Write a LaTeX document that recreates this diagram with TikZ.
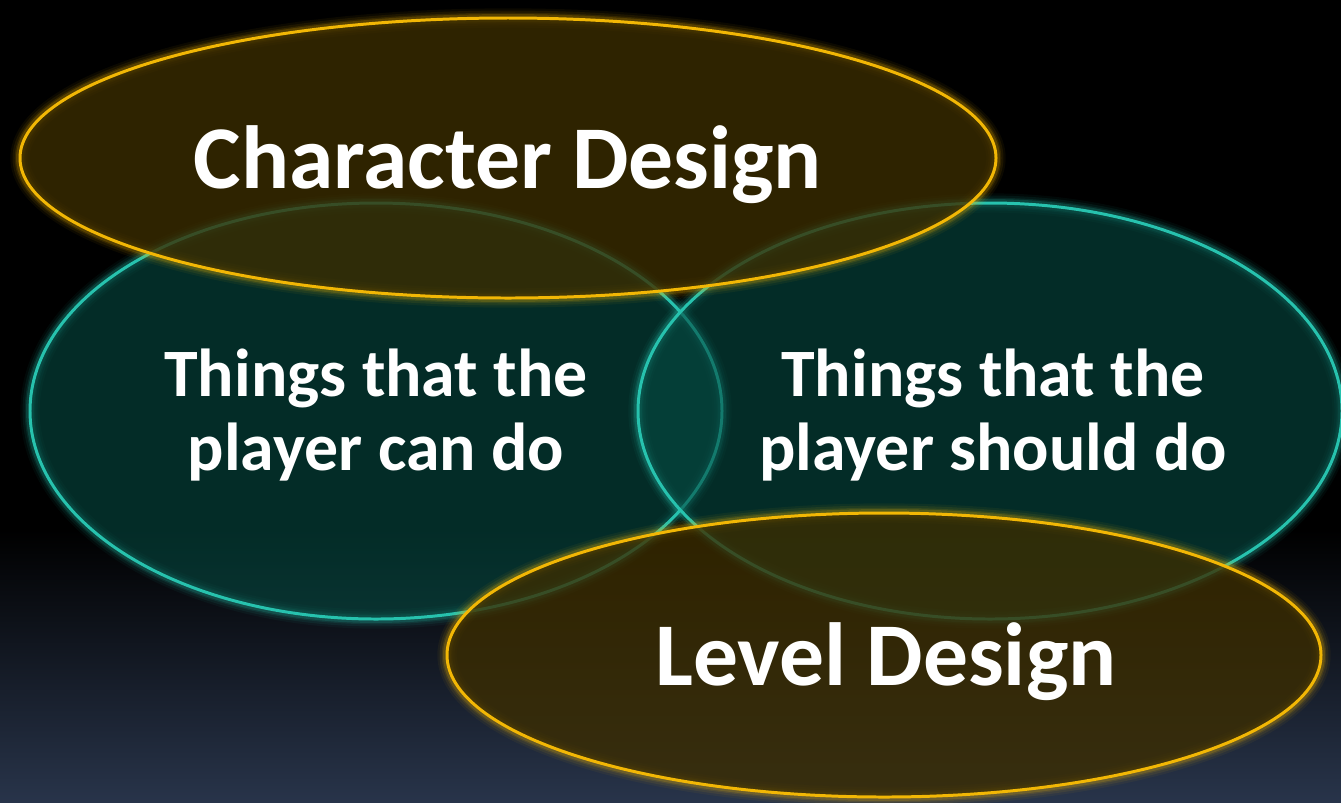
\documentclass[tikz,border=0pt]{standalone}
\usepackage{fontspec}
\setmainfont{Carlito}
\definecolor{backblue}{HTML}{28344A}
\definecolor{goldline}{HTML}{F2B705}
\definecolor{goldfill}{HTML}{3C2D00}
\definecolor{tealline}{HTML}{27C2AE}
\definecolor{tealfill}{HTML}{064A42}
\tikzset{
  bigword/.style={text=white, inner sep=0pt, font=\fontsize{51pt}{60pt}\selectfont\bfseries},
  smallword/.style={text=white, inner sep=0pt, align=center, font=\fontsize{38.6pt}{42pt}\selectfont\bfseries},
}

\begin{document}
\begin{tikzpicture}[x=0.02cm, y=-0.02cm]
  \useasboundingbox (0,0) rectangle (1341,802);
  % dark backdrop, fading to blue at the foot
  \fill[black] (0,0) rectangle (1341,802);
  \shade[top color=black, bottom color=backblue] (0,530) rectangle (1341,802);

  % centres of the four rings
  \coordinate (can)    at (376,411);
  \coordinate (should) at (990,411);
  \coordinate (chr)    at (508,158);
  \coordinate (lvl)    at (884,655);

  \foreach \c/\rx/\ry/\ln/\fl/\op in {can/346/208/tealline/tealfill/0.6,
                                      should/352/208/tealline/tealfill/0.6,
                                      chr/488/140/goldline/goldfill/0.78,
                                      lvl/437/142/goldline/goldfill/0.78} {
    % soft halo round the rim
    \foreach \w/\o in {11/0.05, 8.5/0.08, 6/0.11, 4.5/0.18}
      \draw[draw=\ln, line width=\w pt, opacity=\o] (\c) ellipse [x radius=\rx, y radius=\ry];
    \fill[fill=\fl, fill opacity=\op] (\c) ellipse [x radius=\rx, y radius=\ry];
    \draw[draw=\ln, line width=1.7pt] (\c) ellipse [x radius=\rx, y radius=\ry];
  }

  \node[bigword, anchor=base] (chrtext) at (508,188) {Character Design};
  \node[bigword, anchor=base] (lvltext) at (886,685) {Level Design};
  \node[smallword] (cantext)    at (376,415) {Things that the\\player can do};
  \node[smallword] (shouldtext) at (993,415) {Things that the\\player should do};
\end{tikzpicture}
\end{document}
